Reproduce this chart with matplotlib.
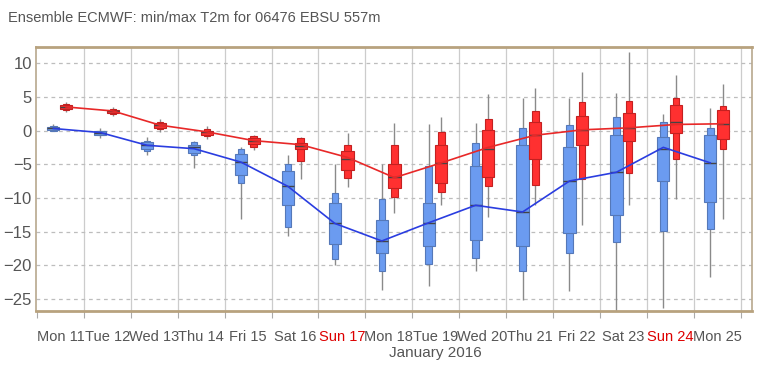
import matplotlib
matplotlib.use('Agg')
import matplotlib.pyplot as plt
import numpy as np

plt.rcParams['font.family'] = ['Liberation Sans Narrow', 'DejaVu Sans Condensed', 'Liberation Sans', 'DejaVu Sans']

# Dane (dzien 0 = pon 11 stycznia 00:00)
day_labels = ['Mon 11', 'Tue 12', 'Wed 13', 'Thu 14', 'Fri 15', 'Sat 16', 'Sun 17', 'Mon 18',
              'Tue 19', 'Wed 20', 'Thu 21', 'Fri 22', 'Sat 23', 'Sun 24', 'Mon 25']
sundays = ['Sun 17', 'Sun 24']

# Temperatura minimalna (niebieska)
min_whi = [0.9, 0.3, -0.9, -1.6, -2.4, -3.6, -5.0, -4.9, 0.9, 1.1, 4.9, 4.9, 5.5, 2.5, 3.3]
min_p90 = [0.6, 0.0, -1.5, -1.7, -2.7, -4.9, -9.3, -10.1, -5.2, -1.9, 0.3, 0.8, 2.0, 1.3, 0.4]
min_p75 = [0.5, -0.1, -1.7, -2.1, -3.5, -6.0, -10.8, -13.3, -10.7, -5.2, -2.1, -2.5, -0.6, -1.0, -0.7]
min_med = [0.3, -0.35, -2.2, -2.4, -4.7, -8.3, -13.8, -16.4, -13.7, -11.0, -12.1, -7.5, -6.2, -2.7, -4.8]
min_p25 = [0.1, -0.6, -2.8, -3.4, -6.6, -11.1, -16.8, -18.2, -17.2, -16.2, -17.1, -15.2, -12.6, -7.5, -10.6]
min_p10 = [0.0, -0.7, -3.0, -3.7, -7.8, -14.4, -19.1, -20.8, -19.8, -18.9, -20.8, -18.2, -16.5, -14.9, -14.6]
min_wlo = [-0.1, -1.1, -3.6, -5.5, -13.1, -15.6, -20.0, -23.7, -23.1, -20.8, -25.2, -23.8, -26.9, -26.4, -21.7]
min_line = [0.3, -0.3, -2.2, -2.7, -4.7, -8.3, -13.8, -16.4, -13.7, -11.1, -12.1, -7.5, -6.2, -2.5, -4.8]

# Temperatura maksymalna (czerwona)
max_whi = [4.2, 3.5, 1.65, 0.7, -0.6, -1.0, -0.4, 1.1, 2.0, 5.4, 6.3, 8.7, 11.6, 8.3, 6.9]
max_p90 = [3.9, 3.2, 1.3, 0.2, -0.75, -1.1, -2.1, -2.2, -0.2, 1.7, 2.9, 4.2, 4.4, 4.8, 3.7]
max_p75 = [3.8, 3.1, 1.1, 0.0, -1.1, -1.9, -3.1, -5.0, -2.1, 0.1, 1.25, 2.1, 2.6, 3.8, 3.1]
max_med = [3.5, 2.9, 0.8, -0.2, -1.5, -2.3, -4.2, -6.9, -4.8, -2.7, -0.6, 0.1, 0.4, 1.25, 1.0]
max_p25 = [3.2, 2.6, 0.4, -0.6, -2.05, -2.75, -5.8, -8.5, -7.8, -6.9, -4.3, -2.1, -1.6, -0.4, -1.2]
max_p10 = [3.1, 2.5, 0.2, -0.8, -2.5, -4.6, -7.05, -9.9, -9.2, -8.3, -8.1, -7.15, -6.3, -4.3, -2.7]
max_wlo = [2.8, 2.1, -0.2, -1.2, -2.85, -7.15, -8.4, -12.2, -11.0, -12.8, -11.0, -14.1, -11.1, -10.2, -13.1]
max_line = [3.5, 2.9, 0.8, -0.2, -1.5, -2.1, -4.0, -7.0, -4.8, -2.5, -0.7, 0.1, 0.4, 0.9, 1.0]

days = np.arange(len(day_labels))
x_min = days + 0.35
x_max = days + 0.62

fig = plt.figure(figsize=(7.64, 3.68), dpi=100)
ax = fig.add_axes([36 / 764, 57 / 368, 716 / 764, 264 / 368])


def draw_boxes(x, wlo, p10, p25, med, p75, p90, whi, fill, edge):
    x = np.asarray(x)
    ax.vlines(x, wlo, whi, color='#8a8a8a', lw=1, zorder=2)
    ax.bar(x, np.subtract(p90, p10), bottom=p10, width=0.14, color=fill,
           edgecolor=edge, lw=0.8, zorder=3)
    ax.bar(x, np.subtract(p75, p25), bottom=p25, width=0.26, color=fill,
           edgecolor=edge, lw=0.8, zorder=4)
    ax.hlines(med, x - 0.13, x + 0.13, color='#444444', lw=1, zorder=5)


draw_boxes(x_min, min_wlo, min_p10, min_p25, min_med, min_p75, min_p90, min_whi,
           '#6b9bf0', '#5578b8')
draw_boxes(x_max, max_wlo, max_p10, max_p25, max_med, max_p75, max_p90, max_whi,
           '#ff3030', '#c42020')

ax.plot(x_min, min_line, color='#2a3de0', lw=1.2, zorder=6)
ax.plot(x_max, max_line, color='#e82828', lw=1.2, zorder=6)

ax.set_xlim(-0.02, 15.24)
ax.set_ylim(-26.8, 12.4)

# Siatka
for d in range(1, 16):
    ax.axvline(d, color='#cccccc', lw=0.9, zorder=0)
for v in range(-25, 11, 5):
    ax.axhline(v, color='#bdbdbd', lw=0.9, ls=(0, (3, 3)), zorder=0)

ax.set_yticks(range(-25, 11, 5))
ax.tick_params(axis='y', length=0, labelsize=12, labelcolor='#555555', pad=3)

ax.set_xticks(range(0, 16))
ax.set_xticklabels([])
ax.tick_params(axis='x', length=5, color='#aaaaaa', direction='out')
ax.set_xticks(days + 0.5, minor=True)
ax.set_xticklabels(day_labels, minor=True)
ax.tick_params(axis='x', which='minor', length=0, labelsize=10.5, pad=14)
for lab in ax.get_xticklabels(minor=True):
    lab.set_color('#dd0000' if lab.get_text() in sundays else '#555555')

for side in ['top', 'bottom']:
    ax.spines[side].set_color('#b8a27e')
    ax.spines[side].set_linewidth(2)
for side in ['left', 'right']:
    ax.spines[side].set_color('#b8a88e')
    ax.spines[side].set_linewidth(1.2)

fig.text(8 / 764, 1 - 18 / 368, 'Ensemble ECMWF: min/max T2m for 06476 EBSU 557m',
         fontsize=10.5, color='#555555', va='center', ha='left')
fig.text(435 / 764, 1 - 353 / 368, 'January 2016',
         fontsize=11, color='#555555', ha='center', va='center')

fig.savefig('out.png', dpi=100)
